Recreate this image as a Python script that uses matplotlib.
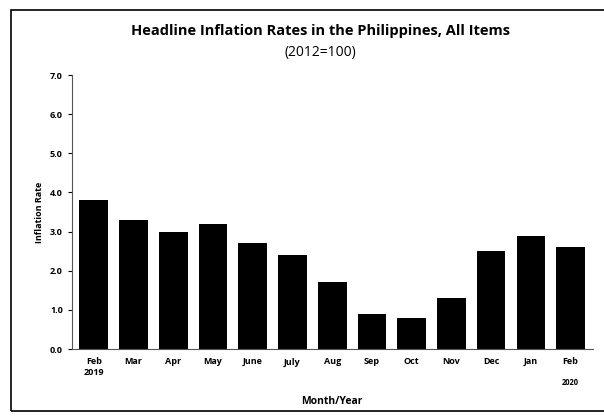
import matplotlib.pyplot as plt
from matplotlib.patches import Rectangle

months = ['Feb\n2019', 'Mar', 'Apr', 'May', 'June', 'July', 'Aug', 'Sep',
          'Oct', 'Nov', 'Dec', 'Jan', 'Feb\n ']
rates = [3.8, 3.3, 3.0, 3.2, 2.7, 2.4, 1.7, 0.9, 0.8, 1.3, 2.5, 2.9, 2.6]
yticks = [0, 1, 2, 3, 4, 5, 6, 7]

plt.rcParams['font.family'] = ['Open Sans', 'DejaVu Sans']

fig = plt.figure(figsize=(6.04, 4.19), dpi=100)
ax = fig.add_axes([0.119, 0.167, 0.862, 0.654])

x = range(len(rates))
ax.bar(x, rates, width=0.72, color='black')
ax.set_xlim(-0.55, len(rates) - 0.45)
ax.set_ylim(0, 7)
ax.set_yticks(yticks)
ax.set_yticklabels(['%.1f' % v for v in yticks], fontsize=6.5, fontweight='bold')
ax.set_xticks(list(x))
ax.set_xticklabels(months, fontsize=6.5, fontweight='bold')
ax.tick_params(axis='x', length=0, pad=6)
ax.tick_params(axis='y', length=3, direction='out', width=0.8)
ax.text(len(rates) - 1, -0.75, '2020', ha='center', va='top', fontsize=5.5, fontweight='bold')

for s in ['top', 'right']:
    ax.spines[s].set_visible(False)
ax.spines['left'].set_color('#555555')
ax.spines['bottom'].set_color('#555555')

ax.set_ylabel('Inflation Rate', fontsize=6.5, fontweight='bold', labelpad=4)
ax.set_xlabel('Month/Year', fontsize=7.5, fontweight='bold', labelpad=14)

fig.text(0.53, 0.925, 'Headline Inflation Rates in the Philippines, All Items',
         ha='center', va='center', fontsize=10.5, fontweight='bold')
fig.text(0.53, 0.875, '(2012=100)', ha='center', va='center', fontsize=10)

fig.patches.append(Rectangle((0.018, 0.02), 1.0, 0.955, transform=fig.transFigure,
                             fill=False, edgecolor='black', linewidth=1.2))

fig.savefig('out.png', dpi=100)
